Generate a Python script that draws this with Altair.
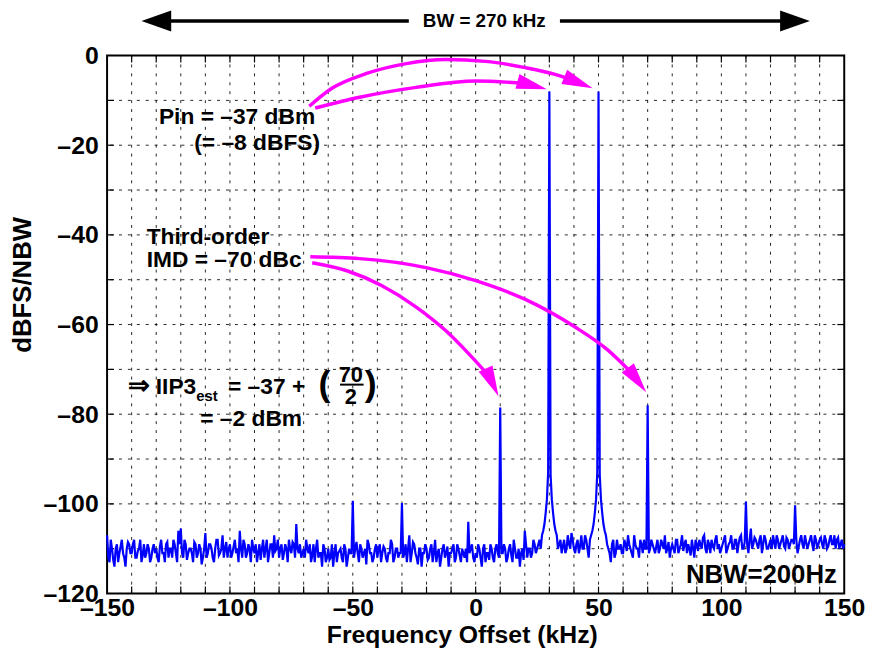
import altair as alt
import pandas as pd

FONT = "Liberation Sans"
BLUE = "#0000FF"
MAG = "#FF00FF"

# ---------------- data ----------------
# spectrum sampled every 0.5 kHz: integer-kHz bins and half-kHz bins
freqs_int = list(range(-150, 151))
level_int = [
    -107, -113, -110, -114, -109, -111, -108, -112, -110, -109,
    -111, -108, -112, -110, -113, -109, -111, -110, -112, -109,
    -110, -113, -108, -111, -109, -112, -110, -108, -111, -106,
    -105.5, -112, -109, -111, -110, -113, -109, -111, -110, -112,
    -106.5, -111, -109, -112, -110, -108, -111, -107, -110, -112,
    -109, -111, -108, -110, -106, -112, -109, -111, -110, -108,
    -111, -113, -109, -110, -112, -108, -111, -109, -107, -110,
    -112, -109, -111, -110, -108, -111, -109, -104.5, -111, -112,
    -110, -108, -111, -113, -109, -110, -112, -111, -109, -113,
    -110, -112, -114, -109, -111, -110, -113, -110, -112, -111,
    -99.3, -110, -111, -109, -112, -110, -108, -111, -113, -110,
    -112, -109, -111, -110, -113, -111, -109, -112, -110, -111,
    -99.8, -111, -113, -107, -111, -109, -112, -110, -114, -111,
    -110, -112, -109, -111, -113, -110, -112, -109, -111, -114,
    -111, -109, -112, -110, -113, -111, -110, -104, -110, -112,
    -111, -109, -112, -110, -113, -111, -109, -112, -110, -111,
    -78.5, -111, -110, -112, -109, -113, -110, -112, -114, -110,
    -106, -112, -110, -111, -109, -110, -108, -107, -104.5, -99,
    -8, -99, -104.5, -107, -109, -111, -108, -110, -109, -106.5,
    -110, -109, -111, -107, -110, -108, -112, -107, -104.5, -99,
    -8, -99, -104.5, -107, -110, -113, -108, -111, -110, -109,
    -111, -109, -107, -110, -112, -109, -110, -108, -111, -110,
    -78, -110, -109, -111, -108, -110, -109, -107, -110, -112,
    -109, -111, -108, -110, -107, -109, -111, -110, -108, -112,
    -109, -108, -110, -107, -111, -109, -108, -110, -107, -109,
    -110, -108, -111, -109, -107, -110, -108, -109, -107, -110,
    -99.5, -111, -105.5, -109, -108, -110, -107, -109, -108, -110,
    -108, -107, -110, -108, -109, -107, -110, -108, -109, -108,
    -100.3, -111, -108, -109, -107, -110, -108, -109, -107, -110,
    -108, -109, -107, -110, -108, -109, -107, -108, -110, -108,
    -109,
]
freqs_half = [f + 0.5 for f in range(-150, 150)]
level_half = [
    -112, -108, -112.5, -110, -113, -109.5, -111, -114, -108.5, -111,
    -109, -112, -110.5, -108, -111.5, -112, -109, -113, -110, -111,
    -112, -109.5, -111, -113, -108.5, -110, -112, -109, -113, -109,
    -111, -108, -112.5, -110, -111, -108.5, -112, -109, -113.5, -110,
    -112, -109, -110, -113, -108, -111.5, -110, -112, -108.5, -110,
    -112, -109.5, -111, -113, -110, -108, -112, -109, -113, -110,
    -109, -111, -112.5, -108, -110, -113, -109, -112, -110.5, -108,
    -110, -112.5, -109, -113, -110, -108.5, -112, -110, -109, -111,
    -112, -110, -109, -111.5, -113, -108, -111, -114, -110, -112,
    -112.5, -109, -111, -113, -110.5, -112, -109, -114, -110, -111,
    -112, -108.5, -113, -110, -111, -113.5, -109, -111, -112, -109,
    -110, -113, -109.5, -112, -111, -108, -113, -110, -112, -111,
    -112, -109, -110, -113, -108.5, -111, -113.5, -110, -111, -109,
    -112.5, -110, -113, -108, -111, -114, -110, -112, -109.5, -111,
    -110, -113, -109, -111.5, -110, -112, -113, -111, -109, -113,
    -112, -110, -114, -109, -111, -112.5, -110, -113, -109, -112,
    -111, -109, -113, -110, -111.5, -108, -112, -110, -111, -112.5,
    -109, -110, -112, -108, -111, -109, -110, -106, -102, -93,
    -93.5, -102, -106, -110, -108, -109.5, -111, -107, -110, -108,
    -111, -108, -109.5, -110, -107, -110, -108, -106, -102, -93,
    -93.5, -102, -106, -109, -111, -109, -112, -108, -110, -111,
    -108, -110.5, -109, -111, -107, -110, -112, -109, -108, -110,
    -111, -108, -110, -109.5, -111, -108, -110, -111, -108.5, -110,
    -110, -108, -111, -109, -110.5, -108, -109, -111.5, -110, -108,
    -110.5, -109, -107.5, -110, -108, -111, -109.5, -108, -110, -111,
    -109, -107, -110, -108.5, -110, -108, -111, -107.5, -110, -108.5,
    -109, -108, -110, -107.5, -109, -108, -111, -107, -110, -109,
    -110, -108.5, -107, -110, -108, -109.5, -107.5, -110, -108, -109,
    -108, -109.5, -107, -110, -108.5, -109, -107, -110.5, -108, -109,
    -107.5, -110, -108, -109.5, -107, -109, -110, -107.5, -109, -110,
]

x_label_values = [-150, -100, -50, 0, 50, 100, 150]
y_label_values = [-120, -100, -80, -60, -40, -20, 0]
x_grid = list(range(-140, 150, 10))
y_grid = list(range(-110, 0, 10))
x_ticks = list(range(-140, 150, 10))
y_ticks = list(range(-110, 0, 10))

# annotation arrows (data coordinates)
arrow_id = ["a"] * 5 + ["b"] * 9 + ["c"] * 7 + ["d"] * 8
arrow_x = [-65.3, -47.2, -24.2, 0.0, 20.2,
           -67.7, -58.5, -44.4, -28.2, -12.1, 4.0, 20.2, 32.3, 39.5,
           -66.5, -52.4, -38.3, -24.2, -12.1, -2.0, 5.6,
           -67.3, -47.2, -20.2, 0.0, 20.2, 40.3, 53.6, 63.3]
arrow_y = [-11.7, -9.3, -7.1, -5.7, -6.2,
           -11.3, -7.3, -4.0, -1.8, -0.9, -1.3, -2.7, -4.2, -5.5,
           -46.2, -48.0, -51.3, -56.1, -61.4, -67.0, -71.6,
           -44.9, -45.3, -47.3, -50.2, -54.4, -60.5, -65.6, -70.7]
head_x = [29.0, 47.6, 9.3, 69.4]
head_y = [-7.5, -7.3, -76.0, -75.1]
head_angle = [105, 112, 155, 143]

bw_seg_x = [-128, 34.3]
bw_seg_x2 = [-27.2, 128]
bw_level = 7.7
bw_head_x = [-136, 136]
bw_head_angle = [270, 90]

# ---------------- tables ----------------
spec = pd.DataFrame({"f": freqs_int + freqs_half,
                     "p": level_int + level_half}).sort_values("f")
arrows = pd.DataFrame({"id": arrow_id, "x": arrow_x, "y": arrow_y})
arrows["o"] = range(len(arrows))
heads = pd.DataFrame({"x": head_x, "y": head_y, "a": head_angle})

XS = alt.Scale(domain=[-150, 150], nice=False, zero=False)
YS = alt.Scale(domain=[-120, 0], nice=False, zero=False)

label_expr = "datum.value < 0 ? '–' + format(-datum.value, 'd') : format(datum.value, 'd')"
AX = alt.Axis(values=x_label_values, grid=False, ticks=False, domain=False,
              labelFlush=False, labelPadding=2, labelExpr=label_expr,
              title="Frequency Offset (kHz)", titleX=358, titleY=29, titleBaseline="top",
              titleFontSize=25)
AY = alt.Axis(values=y_label_values, grid=False, ticks=False, domain=False,
              labelPadding=9, labelExpr=label_expr,
              title="dBFS/NBW", titleX=-72, titleY=231)


def X(field):
    return alt.X(field, scale=XS, axis=AX)


def Y(field):
    return alt.Y(field, scale=YS, axis=AY)


grid_v = alt.Chart(pd.DataFrame({"g": x_grid})).mark_rule(
    color="black", strokeWidth=1, strokeDash=[3, 6], opacity=0.85
).encode(x=X("g:Q"))
grid_h = alt.Chart(pd.DataFrame({"g": y_grid})).mark_rule(
    color="black", strokeWidth=1, strokeDash=[3, 6], opacity=0.85
).encode(y=Y("g:Q"))

tk = pd.DataFrame({"t": x_ticks})
ticks_bottom = alt.Chart(tk).mark_rule(color="black", strokeWidth=1.2).encode(
    x=X("t:Q"), y=alt.value(543), y2=alt.value(536))
ticks_top = alt.Chart(tk).mark_rule(color="black", strokeWidth=1.2).encode(
    x=X("t:Q"), y=alt.value(0), y2=alt.value(7))
tky = pd.DataFrame({"t": y_ticks})
ticks_left = alt.Chart(tky).mark_rule(color="black", strokeWidth=1.2).encode(
    y=Y("t:Q"), x=alt.value(0), x2=alt.value(7))
ticks_right = alt.Chart(tky).mark_rule(color="black", strokeWidth=1.2).encode(
    y=Y("t:Q"), x=alt.value(744), x2=alt.value(737))

line = alt.Chart(spec).mark_line(color=BLUE, strokeWidth=2.2).encode(
    x=X("f:Q"), y=Y("p:Q"))

arrow_lines = alt.Chart(arrows).mark_line(
    color=MAG, strokeWidth=3.5, interpolate="monotone", strokeCap="butt"
).encode(x=X("x:Q"), y=Y("y:Q"), detail="id:N", order="o:Q")
arrow_heads = alt.Chart(heads).mark_point(
    shape="M0,0L0.5,2L-0.5,2Z", filled=True, color=MAG, opacity=1, size=950, strokeWidth=0
).encode(x=X("x:Q"), y=Y("y:Q"), angle=alt.Angle("a:Q", scale=None))

bw_lines = alt.Chart(pd.DataFrame({"x": bw_seg_x, "x2": bw_seg_x2, "y": [bw_level] * 2})).mark_rule(
    color="black", strokeWidth=3.5
).encode(x=X("x:Q"), x2="x2:Q", y=Y("y:Q"))
bw_heads = alt.Chart(pd.DataFrame({"x": bw_head_x, "y": [bw_level] * 2, "a": bw_head_angle})).mark_point(
    shape="M0,0L0.7,2L-0.7,2Z", filled=True, color="black", opacity=1, size=900, strokeWidth=0
).encode(x=X("x:Q"), y=Y("y:Q"), angle=alt.Angle("a:Q", scale=None))

# text annotations: text, x, y, size, align, baseline
ann_text = ["BW = 270 kHz", "Pin = –37 dBm", "(= –8 dBFS)", "Third-order", "IMD = –70 dBc",
            "⇒", "IIP3", "est", "= –37 +", "(", "70", "2", ")", "= –2 dBm", "NBW=200Hz"]
ann_x = [3.5, -65.3, -63.3, -133.9, -133.9,
         -141.5, -130.2, -113.7, -100.8, -61.5, -50.8, -50.8, -42.7, -112.1, 147.0]
ann_y = [7.7, -15.2, -21.0, -42.0, -47.2,
         -75.4, -75.6, -77.0, -75.6, -73.6, -72.9, -77.8, -73.6, -82.7, -117.6]
ann_size = [19, 23, 23, 23, 23, 26, 23, 15, 23, 36, 22, 22, 36, 23, 26]
ann_align = ["center", "right", "right", "left", "left",
             "left", "left", "left", "left", "center", "center", "center", "center", "left", "right"]
ann_base = ["middle", "alphabetic", "alphabetic", "alphabetic", "alphabetic",
            "alphabetic", "alphabetic", "alphabetic", "alphabetic", "middle", "alphabetic",
            "alphabetic", "middle", "alphabetic", "alphabetic"]

texts = []
for t, x, y, s, a, b in zip(ann_text, ann_x, ann_y, ann_size, ann_align, ann_base):
    texts.append(
        alt.Chart(pd.DataFrame({"x": [x], "y": [y], "t": [t]})).mark_text(
            font=FONT, fontWeight="bold", fontSize=s, align=a, baseline=b, color="black"
        ).encode(x=X("x:Q"), y=Y("y:Q"), text="t:N")
    )

frac_line = alt.Chart(pd.DataFrame({"x": [-55.2], "x2": [-45.6], "y": [-73.4]})).mark_rule(
    color="black", strokeWidth=2
).encode(x=X("x:Q"), x2="x2:Q", y=Y("y:Q"))

chart = alt.layer(
    grid_v, grid_h, ticks_bottom, ticks_top, ticks_left, ticks_right,
    line, arrow_lines, arrow_heads, bw_lines, bw_heads, frac_line, *texts
).properties(
    width=744, height=543,
    padding={"left": 100, "top": 45, "right": 25, "bottom": 55},
    autosize=alt.AutoSizeParams(type="none"),
).configure_view(
    stroke="black", strokeWidth=2
).configure_axis(
    labelFont=FONT, labelFontWeight="bold", labelFontSize=25, labelColor="black",
    titleFont=FONT, titleFontWeight="bold", titleFontSize=26, titleColor="black",
)

chart.save("out.html", embed_options={"renderer": "svg", "actions": False})
